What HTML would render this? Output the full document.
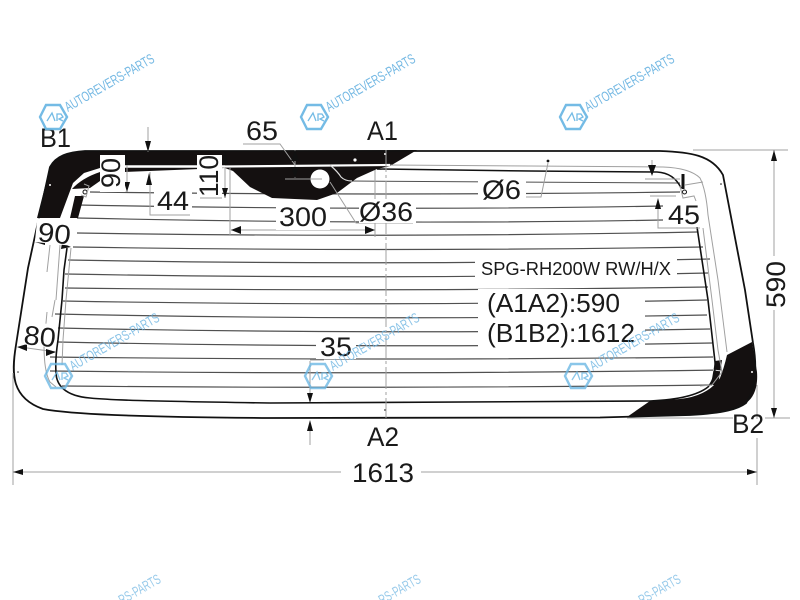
<!DOCTYPE html>
<html><head><meta charset="utf-8">
<style>
html,body{margin:0;padding:0;background:#fff;width:800px;height:600px;overflow:hidden}
svg{display:block}
text{font-family:"Liberation Sans",sans-serif;fill:#1a1a1a}
.d{font-size:27px}
.wm{font-size:14px;fill:#6db5e2}
.g{stroke:#a0a0a0;stroke-width:1;fill:none}
.h{stroke:#505050;stroke-width:1.2;fill:none}
.k{stroke:#111;fill:none}
.a{fill:#111;stroke:none}
</style></head><body>
<svg width="800" height="600" viewBox="0 0 800 600" xmlns="http://www.w3.org/2000/svg">
<rect width="800" height="600" fill="#fff"/>

<!-- heating lines -->
<g class="h">
<path d="M90 192Q386 196 680 192"/>
<path d="M78 205Q386 211 663 206"/>
<path d="M77 218Q386 225 663 220"/>
<path d="M77 233Q386 238 697 232"/>
<path d="M73 247Q386 252 703 247"/>
<path d="M68 260Q386 266 710 259"/>
<path d="M65 274Q386 280 708 273"/>
<path d="M65 288Q386 292 708 287"/>
<path d="M63 301Q386 307 707 300"/>
<path d="M55 314Q386 321 707 315"/>
<path d="M58 328Q386 335 710 329"/>
<path d="M58 342Q386 349 712 343"/>
<path d="M50 357Q386 361 713 357"/>
<path d="M50 371Q386 375 722 370"/>
<path d="M62 386Q386 389 712 385"/>
<path d="M335 172Q340 181 350 181L680 183" stroke-width="1"/>
</g>

<!-- black ceramic areas -->
<path d="M85 151L417 150L390 166L377 169L357 178L337 193L317 200L272 198L250 187L233 171L225 168L125 172L125 155L100 155L100 168L84 173L73 183L60 218L37 218L50 167C56 156 68 152 85 151Z" fill="#141010"/>
<path d="M72 189Q82 178 100 172L100 181L90 188Z" fill="#141010"/>
<path d="M75 196L84 196L78 218L70 218Z" fill="#141010"/>
<path d="M752 342L727 355Q724 368 720 378Q708 396 680 399L650 401L627 417L690 415C725 413 738 409 746 403C755 397 758 385 757 372Z" fill="#141010"/>
<path d="M715 361L722 360L718 385L711 385Z" fill="#141010"/>
<path d="M713 370L722 371" stroke="#ddd" fill="none"/>
<path d="M225 166.5L390 165" stroke="#fff" stroke-width="2.2" fill="none"/>
<path d="M125 166.5L225 166.5" stroke="#fff" stroke-width="2.5" fill="none"/>
<path d="M330 165Q338 172 341 177Q345 181 352 181" stroke="#ddd" stroke-width="1.2" fill="none"/>
<circle cx="320" cy="179" r="9.5" fill="#fff"/>
<circle cx="355" cy="160" r="1.6" fill="#fff"/>
<circle cx="385" cy="154" r="1" fill="#fff"/>
<circle cx="50" cy="185" r="1" fill="#fff"/>
<circle cx="752" cy="372" r="1" fill="#fff"/>

<!-- glass outline -->
<path class="k" stroke-width="1.8" d="M85 151L660 151C690 152 712 155 723 175L745 290L753 343C756 360 758 385 746 403C738 409 725 413 690 415L600 417.5L270 418C130 417 70 414 43 409C12 398 11 375 16 345L28 268L50 167C56 156 68 152 85 151Z"/>
<!-- inner black edge -->
<path class="k" stroke-width="1.6" d="M270 403C140 401 110 400 90 398C65 396 56 385 56 372Q55 360 58 340L62 300L64 270L67 248"/>
<path class="k" stroke-width="1.6" d="M270 403L650 401Q693 399 708 387Q716 378 715 362L708 300L697 227"/>
<path class="g" d="M71 248L66 300L63 340L62 365"/>
<path class="g" d="M703 228L712 300L718 350L722 372L712 385L700 386"/>
<path class="g" d="M663 167Q690 168 700 178Q706 190 708 215L718 280L727 352"/>
<path d="M55 300L52 317M47 312L44 345Q44 372 50 382L56 387" class="g" stroke="#666"/>
<path d="M50 245L47 272M60 245L56 300" class="g"/>
<!-- top lines right -->
<path class="k" stroke-width="1.5" d="M377 169L530 171L657 172Q674 173 681 188"/>
<path class="g" stroke="#777" d="M390 165L530 166L663 167"/>
<path d="M683 174L683 189" stroke="#111" stroke-width="3" fill="none"/>
<circle cx="684.5" cy="192" r="2" fill="#fff" stroke="#111"/>
<path class="g" d="M680 186L683 198L694 196L696 201M685 185L703 182"/>
<circle cx="548" cy="161" r="1.4" fill="#111"/>
<circle cx="721" cy="184" r="0.8" fill="#111"/>
<circle cx="18" cy="372" r="0.8" fill="#333"/>
<circle cx="385" cy="410" r="0.9" fill="#333"/>
<circle cx="85" cy="192" r="2" fill="#fff" stroke="#111"/>
<path class="g" d="M84 184L89 186L86 197L81 195"/>

<!-- dimension lines -->
<g class="g">
<path d="M386 150V418" stroke-dasharray="22 3 3 3"/>
<path d="M148 127V152M127 155V192M150 172V215H190M225 168V198M230 168V235M200 198H222"/>
<path d="M243 144H280L295 165M295 150V178M285 179H322"/>
<path d="M231 230H375M375 170V237"/>
<path d="M330 182L356 223H413M510 197H541L548 163"/>
<path d="M652 160V172M645 179H680M650 196H676M658 200V228H700"/>
<path d="M693 150H788M774 150V256M774 310V418M627 418H733M765 418H790"/>
<path d="M13 373V485M757 385V485"/>
<path d="M13 472H345M421 472H757"/>
<path d="M310 360H324M310 361V400M310 422V445"/>
<path d="M20 347L56 352M36 240L70 245"/>
</g>
<!-- arrowheads -->
<g class="a">
<path d="M148 152L145 141H151Z"/>
<path d="M127 153L124 165H130Z"/>
<path d="M127 192L124 182H130Z"/>
<path d="M149 173L146 185H152Z"/>
<path d="M225 152L222 164H228Z"/>
<path d="M225 198L222 188H228Z"/>
<path d="M295 150L291 161H299Z"/>
<path d="M295 178L291 167H299Z"/>
<path d="M231 230L241 226V234Z"/>
<path d="M375 230L365 226V234Z"/>
<path d="M652 176L648 165H656Z"/>
<path d="M658 198L655 209H661Z"/>
<path d="M774 150L771 161H777Z"/>
<path d="M774 418L771 408H777Z"/>
<path d="M13 472L23 469V475Z"/>
<path d="M757 472L747 469V475Z"/>
<path d="M310 403L307 393H313Z"/>
<path d="M310 420L307 431H313Z"/>
<path d="M17 347L27 344V351Z"/>
<path d="M56 352L46 349V356Z"/>
<path d="M35 242L45 240V245Z"/>
<path d="M71 247L62 243L61 249Z"/>
</g>

<!-- white label boxes -->
<g fill="#fff">
<rect x="100" y="155" width="25" height="37"/>
<rect x="197" y="155" width="25" height="40"/>
<rect x="154" y="188" width="38" height="26"/>
<rect x="276" y="204" width="54" height="26"/>
<rect x="359" y="199" width="57" height="24"/>
<rect x="478" y="177" width="48" height="26"/>
<rect x="664" y="203" width="38" height="24"/>
<rect x="475" y="256" width="202" height="24"/>
<rect x="478" y="289" width="167" height="60"/>
<rect x="316" y="335" width="40" height="24"/>
<rect x="341" y="460" width="80" height="26"/>
<rect x="732" y="419" width="38" height="19"/>
<rect x="36" y="220" width="38" height="24" transform="rotate(6 55 232)"/>
<rect x="22" y="323" width="34" height="23" transform="rotate(6 39 335)"/>
</g>

<!-- labels -->
<text class="d" x="40" y="147" textLength="31" lengthAdjust="spacingAndGlyphs">B1</text>
<text class="d" x="246" y="140" textLength="32" lengthAdjust="spacingAndGlyphs">65</text>
<text class="d" x="367" y="140" textLength="31" lengthAdjust="spacingAndGlyphs">A1</text>
<text class="d" x="367" y="446" textLength="32" lengthAdjust="spacingAndGlyphs">A2</text>
<text class="d" x="732" y="433" textLength="32" lengthAdjust="spacingAndGlyphs">B2</text>
<text class="d" x="157" y="210" textLength="32" lengthAdjust="spacingAndGlyphs">44</text>
<text class="d" x="279" y="226" textLength="48" lengthAdjust="spacingAndGlyphs">300</text>
<text class="d" x="359" y="221" textLength="54" lengthAdjust="spacingAndGlyphs">Ø36</text>
<text class="d" x="482" y="199" textLength="39" lengthAdjust="spacingAndGlyphs">Ø6</text>
<text class="d" x="668" y="224" textLength="32" lengthAdjust="spacingAndGlyphs">45</text>
<text class="d" x="320" y="356" textLength="32" lengthAdjust="spacingAndGlyphs">35</text>
<text class="d" x="352" y="482" textLength="62" lengthAdjust="spacingAndGlyphs">1613</text>
<text class="d" transform="translate(120 188) rotate(-90)" textLength="30" lengthAdjust="spacingAndGlyphs">90</text>
<text class="d" transform="translate(218 197) rotate(-90)" textLength="42" lengthAdjust="spacingAndGlyphs">110</text>
<text class="d" transform="translate(785 308) rotate(-90)" textLength="47" lengthAdjust="spacingAndGlyphs">590</text>
<text class="d" transform="translate(37 241) rotate(6)" textLength="33" lengthAdjust="spacingAndGlyphs">90</text>
<text class="d" transform="translate(23 344) rotate(6)" textLength="32" lengthAdjust="spacingAndGlyphs">80</text>
<text x="481" y="275" font-size="18" textLength="190" lengthAdjust="spacingAndGlyphs">SPG-RH200W RW/H/X</text>
<text x="487" y="312" font-size="26" textLength="133" lengthAdjust="spacingAndGlyphs">(A1A2):590</text>
<text x="487" y="342" font-size="26" textLength="148" lengthAdjust="spacingAndGlyphs">(B1B2):1612</text>

<!-- watermarks -->
<g opacity=".95">
<path d="M46 105H60L67 117L60 129H46L40 117Z" fill="none" stroke="#6db8e4" stroke-width="2.4"/>
<path d="M47 121L52 113L55 121M57 121V114H61L63 117L59 119L63 121" fill="none" stroke="#6db8e4" stroke-width="1.3"/>
<text class="wm" transform="translate(68 112) rotate(-30)" textLength="101" lengthAdjust="spacingAndGlyphs">AUTOREVERS-PARTS</text>
</g>
<g opacity=".95" transform="translate(261 0)">
<path d="M46 105H60L67 117L60 129H46L40 117Z" fill="none" stroke="#6db8e4" stroke-width="2.4"/>
<path d="M47 121L52 113L55 121M57 121V114H61L63 117L59 119L63 121" fill="none" stroke="#6db8e4" stroke-width="1.3"/>
<text class="wm" transform="translate(68 112) rotate(-30)" textLength="101" lengthAdjust="spacingAndGlyphs">AUTOREVERS-PARTS</text>
</g>
<g opacity=".95" transform="translate(520 0)">
<path d="M46 105H60L67 117L60 129H46L40 117Z" fill="none" stroke="#6db8e4" stroke-width="2.4"/>
<path d="M47 121L52 113L55 121M57 121V114H61L63 117L59 119L63 121" fill="none" stroke="#6db8e4" stroke-width="1.3"/>
<text class="wm" transform="translate(68 112) rotate(-30)" textLength="101" lengthAdjust="spacingAndGlyphs">AUTOREVERS-PARTS</text>
</g>
<g opacity=".8" transform="translate(5 259)">
<path d="M46 105H60L67 117L60 129H46L40 117Z" fill="none" stroke="#6db8e4" stroke-width="2.4"/>
<path d="M47 121L52 113L55 121M57 121V114H61L63 117L59 119L63 121" fill="none" stroke="#6db8e4" stroke-width="1.3"/>
<text class="wm" transform="translate(68 112) rotate(-30)" textLength="101" lengthAdjust="spacingAndGlyphs">AUTOREVERS-PARTS</text>
</g>
<g opacity=".8" transform="translate(265 259)">
<path d="M46 105H60L67 117L60 129H46L40 117Z" fill="none" stroke="#6db8e4" stroke-width="2.4"/>
<path d="M47 121L52 113L55 121M57 121V114H61L63 117L59 119L63 121" fill="none" stroke="#6db8e4" stroke-width="1.3"/>
<text class="wm" transform="translate(68 112) rotate(-30)" textLength="101" lengthAdjust="spacingAndGlyphs">AUTOREVERS-PARTS</text>
</g>
<g opacity=".8" transform="translate(525 259)">
<path d="M46 105H60L67 117L60 129H46L40 117Z" fill="none" stroke="#6db8e4" stroke-width="2.4"/>
<path d="M47 121L52 113L55 121M57 121V114H61L63 117L59 119L63 121" fill="none" stroke="#6db8e4" stroke-width="1.3"/>
<text class="wm" transform="translate(68 112) rotate(-30)" textLength="101" lengthAdjust="spacingAndGlyphs">AUTOREVERS-PARTS</text>
</g>
<g opacity=".7">
<text class="wm" transform="translate(122 605) rotate(-30)" textLength="46" lengthAdjust="spacingAndGlyphs">RS-PARTS</text>
<text class="wm" transform="translate(382 605) rotate(-30)" textLength="46" lengthAdjust="spacingAndGlyphs">RS-PARTS</text>
<text class="wm" transform="translate(642 605) rotate(-30)" textLength="46" lengthAdjust="spacingAndGlyphs">RS-PARTS</text>
</g>
</svg>
</body></html>
